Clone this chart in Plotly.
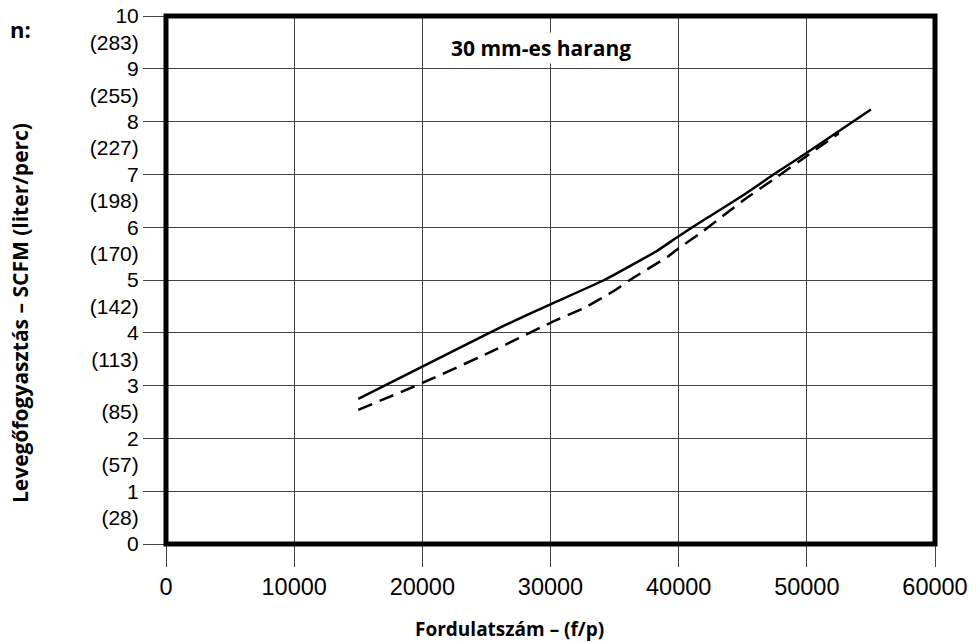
import plotly.graph_objects as go

# Fordulatszám (f/p) és levegőfogyasztás (SCFM)
rpm_solid = [15000, 20000, 25000, 26500, 30000, 34200, 38300, 40000, 41650, 45000, 47600, 50000, 55000]
scfm_solid = [2.75, 3.36, 3.97, 4.15, 4.54, 5.0, 5.55, 5.83, 6.09, 6.6, 7.03, 7.41, 8.23]

rpm_dash = [15000, 20000, 25000, 30000, 32700, 35000, 36200, 39200, 40000, 41650, 45000, 47600, 50000, 52500]
scfm_dash = [2.54, 3.05, 3.6, 4.19, 4.48, 4.8, 5.0, 5.45, 5.6, 5.88, 6.5, 6.94, 7.35, 7.78]

x_ticks = [0, 10000, 20000, 30000, 40000, 50000, 60000]
y_ticks = list(range(0, 11))
liter_pos = [v + 0.5 for v in range(0, 10)]
liter_text = ["(28)", "(57)", "(85)", "(113)", "(142)", "(170)", "(198)", "(227)", "(255)", "(283)"]

y_tick_font = dict(family="Liberation Sans, Arial, sans-serif", size=21, color="black")
x_tick_font = dict(family="Liberation Sans, Arial, sans-serif", size=23.5, color="black")
bold_font = "Open Sans, Noto Sans, sans-serif"

fig = go.Figure()
fig.add_trace(go.Scatter(x=rpm_solid, y=scfm_solid, mode="lines",
                         line=dict(color="black", width=2.5, shape="spline", smoothing=0.4),
                         showlegend=False))
fig.add_trace(go.Scatter(x=rpm_dash, y=scfm_dash, mode="lines",
                         line=dict(color="black", width=2.5, dash="15px,8px",
                                   shape="spline", smoothing=0.4),
                         showlegend=False))
# invisible trace to carry the liter labels on the second axis
fig.add_trace(go.Scatter(x=[None], y=[None], yaxis="y2", showlegend=False))

fig.update_layout(
    width=980, height=643,
    margin=dict(l=158, r=53, t=8, b=107),
    plot_bgcolor="white", paper_bgcolor="white",
    xaxis=dict(range=[0, 60000], tickvals=x_ticks, ticktext=[str(v) for v in x_ticks],
               showgrid=True, gridcolor="#444", gridwidth=1.2, zeroline=False,
               ticks="outside", ticklen=22, tickcolor="#444", tickwidth=1.2,
               tickfont=x_tick_font, showline=False, automargin=False,
               ticklabeloverflow="allow"),
    yaxis=dict(range=[0, 10], tickvals=y_ticks, ticktext=[str(v) for v in y_ticks],
               showgrid=True, gridcolor="#444", gridwidth=1.2, zeroline=False,
               ticks="outside", ticklen=22, tickcolor="#444", tickwidth=1.2,
               tickfont=y_tick_font, showline=False, automargin=False,
               ticklabeloverflow="allow"),
    yaxis2=dict(range=[0, 10], overlaying="y", side="left", tickvals=liter_pos,
                ticktext=liter_text, showgrid=False, zeroline=False,
                ticks="outside", ticklen=22, tickcolor="rgba(0,0,0,0)",
                tickfont=y_tick_font, showline=False, automargin=False,
                ticklabeloverflow="allow"),
)

fig.add_shape(type="rect", xref="paper", yref="paper", x0=0, x1=1, y0=0, y1=1,
              line=dict(color="black", width=5), layer="above")

fig.add_annotation(x=29250, y=9.39, xref="x", yref="y", text="<b>30 mm-es harang</b>",
                   showarrow=False, font=dict(family=bold_font, size=21, color="black"),
                   bgcolor="white")
fig.add_annotation(x=0.447, y=-0.161, xref="paper", yref="paper",
                   xanchor="center", yanchor="middle",
                   text="<b>Fordulatszám – (f/p)</b>", showarrow=False,
                   font=dict(family=bold_font, size=19, color="black"))
fig.add_annotation(x=(20 - 166) / 769, y=0.4375, xref="paper", yref="paper", textangle=-90,
                   xanchor="center", yanchor="middle",
                   text="<b>Levegőfogyasztás – SCFM (liter/perc)</b>", showarrow=False,
                   font=dict(family=bold_font, size=21, color="black"))
fig.add_annotation(x=(8 - 166) / 769, y=0.975, xref="paper", yref="paper",
                   xanchor="left", yanchor="middle",
                   text="<b>n:</b>", showarrow=False,
                   font=dict(family=bold_font, size=22, color="black"))

fig.write_html("out.html")
